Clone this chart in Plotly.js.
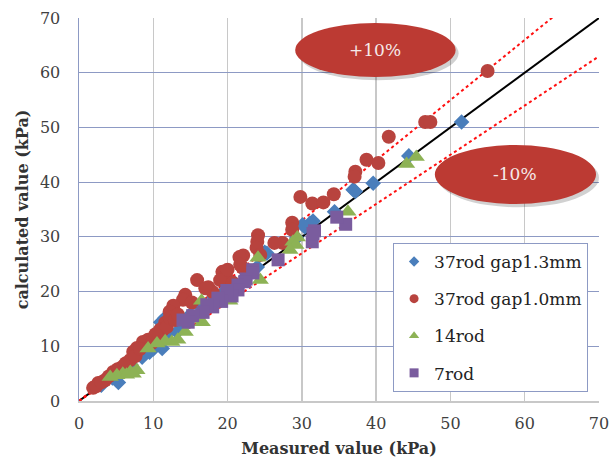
<!DOCTYPE html>
<html>
<head>
<meta charset="utf-8">
<script src="https://cdn.plot.ly/plotly-3.0.1.min.js"></script>
<style>html,body{margin:0;padding:0;background:#fff;}#chart{width:611px;height:461px;}</style>
</head>
<body>
<div id="chart"></div>
<script>
// ---- data ----
const seriesNames = ['37rod gap1.3mm', '37rod gap1.0mm', '14rod', '7rod'];

const gap13X = [51.5, 44.4, 39.6, 37.2, 36.9, 34.4, 31.5, 31.1, 30.4, 30.1, 29.3, 25.0, 25.3, 24.0, 22.5, 21.0, 19.5, 18.2, 16.5, 15.0, 11.6, 11.0, 12.0, 11.2, 10.0, 9.5, 8.5, 7.0, 6.0, 5.3, 4.5, 3.0, 13.2, 14.0];
const gap13Y = [51.0, 44.8, 39.8, 38.3, 38.6, 34.6, 32.9, 32.5, 31.8, 32.2, 29.8, 27.2, 27.0, 24.5, 22.8, 21.5, 20.0, 19.0, 17.0, 15.8, 15.2, 14.4, 12.5, 9.6, 9.5, 8.9, 8.0, 6.6, 5.6, 3.4, 4.2, 2.9, 12.6, 13.6];

const gap10X = [55.0, 46.6, 47.3, 41.7, 38.7, 40.3, 37.2, 37.1, 34.3, 29.8, 31.4, 32.9, 28.7, 28.7, 27.4, 26.3, 24.1, 24.0, 23.9, 24.4, 22.1, 22.0, 21.6, 21.7, 19.3, 19.8, 19.0, 20.7, 17.4, 18.0, 15.9, 17.0, 14.3, 14.0, 12.7, 12.2, 11.6, 11.3, 10.9, 11.8, 12.2, 10.5, 9.3, 8.6, 7.8, 7.3, 6.9, 5.8, 4.6, 3.5, 2.6, 1.9, 2.3, 3.0, 4.0, 5.2, 6.3, 7.6, 8.2, 9.8, 10.3, 12.9, 13.3, 20.0, 15.2];
const gap10Y = [60.3, 51.0, 51.0, 48.3, 44.1, 43.5, 41.9, 41.0, 37.8, 37.3, 36.1, 36.3, 32.6, 31.3, 28.9, 28.9, 30.3, 29.1, 28.0, 26.7, 26.6, 24.4, 26.3, 24.9, 23.6, 22.7, 22.1, 21.6, 20.8, 19.9, 22.1, 20.6, 19.4, 18.5, 17.4, 16.3, 14.3, 13.0, 13.0, 13.5, 15.2, 11.7, 11.2, 10.8, 9.7, 9.0, 7.5, 6.2, 5.3, 3.8, 3.3, 2.4, 2.7, 3.4, 4.5, 5.8, 6.9, 8.2, 9.5, 10.6, 12.2, 14.8, 15.8, 24.0, 18.0];

const rod14X = [44.1, 45.4, 36.2, 29.4, 28.8, 29.2, 28.4, 24.1, 24.4, 20.3, 16.5, 16.6, 14.3, 12.5, 11.6, 10.5, 9.3, 7.8, 6.9, 5.9, 5.1, 4.2, 6.4, 7.3, 13.3, 15.5];
const rod14Y = [43.3, 44.6, 34.6, 29.9, 29.1, 28.5, 27.6, 26.2, 22.1, 18.3, 18.3, 14.4, 12.6, 10.8, 10.9, 10.5, 9.6, 5.6, 5.3, 5.0, 4.7, 4.4, 4.8, 5.0, 11.2, 15.0];

const rod7X = [35.9, 34.7, 31.7, 31.4, 31.5, 26.8, 23.4, 23.4, 22.5, 22.3, 21.4, 21.4, 20.6, 19.9, 19.2, 18.7, 18.0, 17.2, 16.7, 15.3, 14.7, 14.0];
const rod7Y = [32.3, 33.6, 31.1, 29.1, 30.6, 25.8, 24.0, 23.4, 22.3, 21.8, 21.2, 20.3, 19.2, 20.2, 18.2, 18.8, 17.2, 17.6, 16.2, 15.6, 14.4, 14.8];

// reference lines: 1:1 and ±10 %
const refX = [0, 70];
const refY = [0, 70];
const plus10Y = [0, 77];
const minus10Y = [0, 63];

// ellipse labels
const bandLabels = ['+10%', '-10%'];

const tickVals = [0, 10, 20, 30, 40, 50, 60, 70];

// ---- styles ----
const FONT = 'DejaVu Serif';
const colBlue = '#4A7EBB';
const colRed = '#B8433E';
const colGreen = '#8DB255';
const colPurple = '#7A5C9E';

const traces = [
  {x: refX, y: refY, mode: 'lines', line: {color: '#000', width: 2}, showlegend: false, hoverinfo: 'skip'},
  {x: refX, y: plus10Y, mode: 'lines', line: {color: '#FF1010', width: 2, dash: 'dot'}, showlegend: false, hoverinfo: 'skip'},
  {x: refX, y: minus10Y, mode: 'lines', line: {color: '#FF1010', width: 2, dash: 'dot'}, showlegend: false, hoverinfo: 'skip'},
  {x: gap13X, y: gap13Y, mode: 'markers', marker: {symbol: 'diamond', size: 12, color: colBlue}, showlegend: false},
  {x: gap10X, y: gap10Y, mode: 'markers', marker: {symbol: 'circle', size: 14, color: colRed}, showlegend: false},
  {x: rod14X, y: rod14Y, mode: 'markers', marker: {symbol: 'triangle-up', size: 15, color: colGreen}, showlegend: false},
  {x: rod7X, y: rod7Y, mode: 'markers', marker: {symbol: 'square', size: 13, color: colPurple}, showlegend: false},
  // legend entries
  {x: [null], y: [null], name: seriesNames[0], mode: 'markers', legendgroup: 'a', marker: {symbol: 'diamond', size: 8, color: colBlue}},
  {x: [null], y: [null], name: seriesNames[1], mode: 'markers', legendgroup: 'b', marker: {symbol: 'circle', size: 9, color: colRed}},
  {x: [null], y: [null], name: seriesNames[2], mode: 'markers', legendgroup: 'c', marker: {symbol: 'triangle-up', size: 9, color: colGreen}},
  {x: [null], y: [null], name: seriesNames[3], mode: 'markers', legendgroup: 'd', marker: {symbol: 'square', size: 9, color: colPurple}}
];

function ellipse(x0, x1, y0, y1, fill) {
  return {type: 'circle', xref: 'x', yref: 'y', x0: x0, x1: x1, y0: y0, y1: y1,
          fillcolor: fill, line: {width: 0}, layer: 'above'};
}

const layout = {
  width: 611, height: 461,
  margin: {l: 79, r: 12, t: 18, b: 60},
  paper_bgcolor: '#fff', plot_bgcolor: '#fff',
  font: {family: FONT, color: '#333'},
  showlegend: true,
  xaxis: {
    range: [0, 70], tickvals: tickVals, ticks: '', zeroline: false,
    showgrid: true, gridcolor: '#c8c8c8', gridwidth: 1.5,
    showline: true, linecolor: '#c8c8c8', linewidth: 1.5,
    tickfont: {family: FONT, size: 16, color: '#404040'},
    ticklabelstandoff: 7,
    title: {text: '<b>Measured value (kPa)</b>', font: {family: FONT, size: 16, color: '#333'}, standoff: 11}
  },
  yaxis: {
    range: [0, 70], tickvals: tickVals, ticks: '', zeroline: false,
    showgrid: true, gridcolor: '#8d9ac4', gridwidth: 1.2,
    showline: true, linecolor: '#8d9ac4', linewidth: 1.5,
    tickfont: {family: FONT, size: 16, color: '#404040'},
    ticklabelstandoff: 14,
    title: {text: '<b>calculated value (kPa)</b>', font: {family: FONT, size: 16, color: '#333'}, standoff: 7}
  },
  legend: {
    x: 0.604, y: 0.4125, xanchor: 'left', yanchor: 'top',
    bgcolor: '#fff', bordercolor: '#8d9ac4', borderwidth: 1,
    font: {family: FONT, size: 17, color: '#222'},
    traceorder: 'grouped', tracegroupgap: 12, itemwidth: 30
  },
  shapes: [
    ellipse(29.5, 51.1, 58.6, 68.5, 'rgba(0,0,0,0.18)'),
    ellipse(29.1, 50.7, 59.2, 69.1, '#BC3A33'),
    ellipse(48.3, 70.0, 35.4, 46.2, 'rgba(0,0,0,0.18)'),
    ellipse(47.9, 69.6, 36.0, 46.8, '#BC3A33')
  ],
  annotations: [
    {x: 39.9, y: 64.2, xref: 'x', yref: 'y', text: bandLabels[0], showarrow: false,
     font: {family: FONT, size: 17, color: '#f6eaea'}},
    {x: 58.7, y: 41.4, xref: 'x', yref: 'y', text: bandLabels[1], showarrow: false,
     font: {family: FONT, size: 17, color: '#f6eaea'}}
  ]
};

Plotly.newPlot('chart', traces, layout, {displayModeBar: false, staticPlot: true});
</script>
</body>
</html>
